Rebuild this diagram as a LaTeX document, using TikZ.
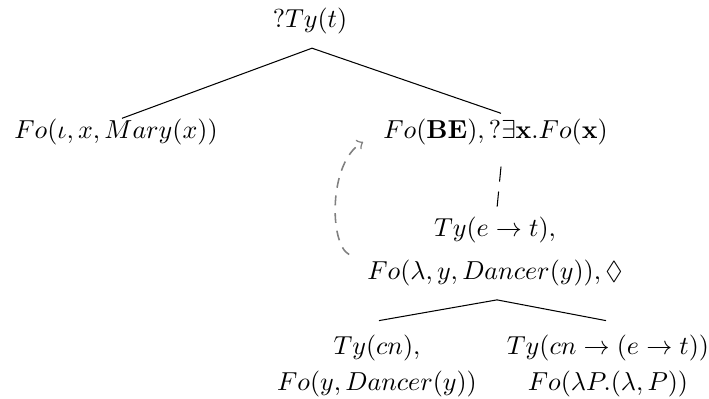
\documentclass[tikz,border=0pt]{standalone}
\usepackage{amsfonts, amsmath}
\usepackage{amssymb}
\usepackage{tikz}

\begin{document}
\begin{tikzpicture}[x=0.3846pt, y=-0.3846pt]
\tikzset{pointer/.style={gray, line width=0.6pt, dash pattern=on 3.8pt off 3pt, ->}}
\useasboundingbox (0,0) rectangle (709,399);

\node (root) at (310,21) {$?Ty(t)$};

\node (mary) at (116,131.5) {$Fo(\iota, x, Mary(x))$};
\node (be) at (495.5,131.5) {$Fo(\mathbf{BE}), ?\exists\mathbf{x}.Fo(\mathbf{x})$};

\node[align=center] (pred) at (495,251.5) {$Ty(e \to t),$\\[4.3pt] $Fo(\lambda, y, Dancer(y)), \Diamond$};

\node[align=center] (cn) at (377,366) {$Ty(cn),$\\[2pt] $Fo(y, Dancer(y))$};
\node[align=center] (fun) at (608,366) {$Ty(cn \to (e \to t))$\\[2pt] $Fo(\lambda P.(\lambda, P))$};

\draw[-] ([shift={(2,5)}]root.south) to ([shift={(6,9)}]mary.north);
\draw[-] ([shift={(2,5)}]root.south) to ([shift={(5.5,4)}]be.north);
%\draw[-] (be.south) to (pred.north);
\draw[dash pattern=on 5.8pt off 3.8pt] ([shift={(5.5,13)}]be.south) to ([shift={(2,0)}]pred.north);

\draw[-] ([shift={(2,5)}]pred.south) to ([shift={(2,-5)}]cn.north);
\draw[-] ([shift={(2,5)}]pred.south) to ([shift={(-2,-5)}]fun.north);

\draw[pointer] ([shift={(-9,3)}]pred.west) .. controls +(-20,-10) and +(-35,20) .. ([shift={(-11,10.5)}]be.west);
\end{tikzpicture}
\end{document}
